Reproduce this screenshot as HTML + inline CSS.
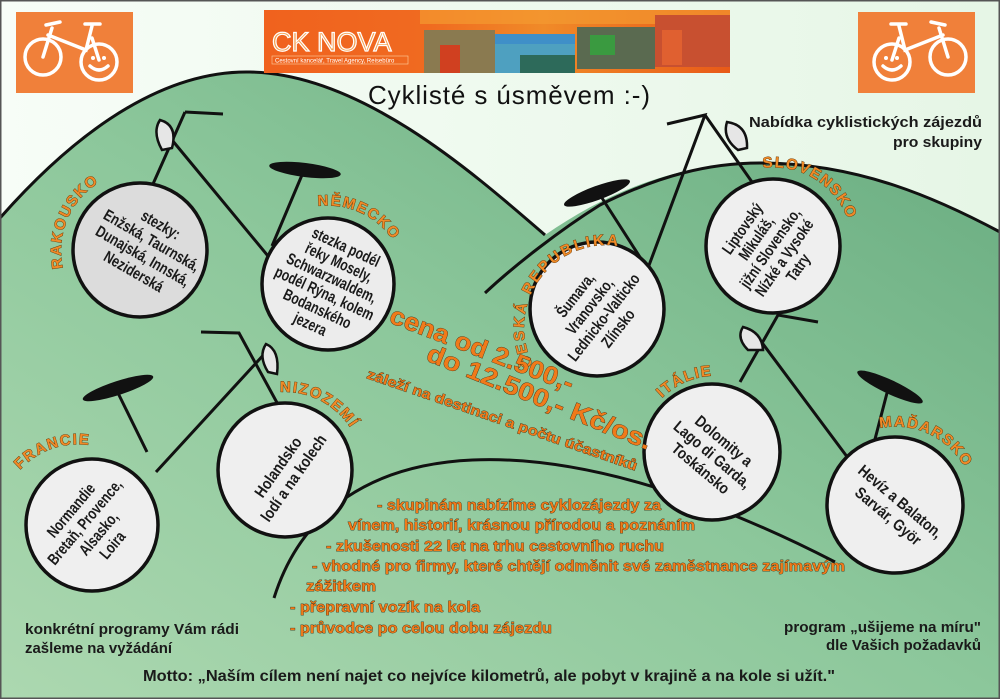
<!DOCTYPE html>
<html><head><meta charset="utf-8"><style>
html,body{margin:0;padding:0;width:1000px;height:699px;overflow:hidden;background:#fff}
svg{display:block}
.t{font-family:"Liberation Sans Narrow","Liberation Sans",sans-serif;font-weight:bold;fill:#1a1a1a}
.o{font-family:"Liberation Sans Narrow","Liberation Sans",sans-serif;font-weight:bold;fill:#f07a1a;stroke:#3a2a10;stroke-width:0.7;paint-order:stroke}
.lab{font-family:"Liberation Sans","DejaVu Sans",sans-serif;font-weight:bold;font-size:15px;fill:#f08a28;stroke:#5a3000;stroke-width:0.8;paint-order:stroke;letter-spacing:1.5px}
.ln{stroke:#111;stroke-width:3;fill:none}
.w{stroke:#fff;stroke-width:3.5;fill:none;stroke-linecap:round}
</style></head><body>
<svg width="1000" height="699" viewBox="0 0 1000 699" xmlns="http://www.w3.org/2000/svg">
<defs>
<linearGradient id="bg" x1="0" y1="0" x2="1" y2="0"><stop offset="0" stop-color="#f7fdf7"/><stop offset="1" stop-color="#e6f6e6"/></linearGradient>
<linearGradient id="gr" x1="0" y1="1" x2="1" y2="0"><stop offset="0" stop-color="#acd8b0"/><stop offset="0.5" stop-color="#8cc79b"/><stop offset="1" stop-color="#66aa7e"/></linearGradient>
<linearGradient id="ban" x1="0" y1="0" x2="1" y2="0"><stop offset="0" stop-color="#f0621e"/><stop offset="0.35" stop-color="#f06a20"/><stop offset="0.6" stop-color="#f08a28"/><stop offset="1" stop-color="#e85a18"/></linearGradient>
</defs>
<rect width="1000" height="699" fill="url(#bg)"/>
<path d="M0,218 C60,150 150,70 250,72 C360,74 470,170 545,235 C610,190 680,163 760,163 C860,163 940,200 1000,232 L1000,699 L0,699 Z" fill="url(#gr)"/>
<path d="M0,218 C60,150 150,70 250,72 C360,74 470,170 545,235" class="ln" stroke-width="2.5"/>
<path d="M485,293 C515,265 560,230 600,205 C660,175 710,163 760,163 C860,163 940,200 1000,232" class="ln" stroke-width="2.5"/>
<rect x="0.5" y="0.5" width="999" height="698" fill="none" stroke="#555" stroke-width="2"/>

<rect x="16" y="12" width="117" height="81" fill="#f0803a"/>
<g class="w"><circle cx="43" cy="57" r="18"/><circle cx="99" cy="62" r="18"/>
<path d="M43,57 L52,28 M46,25 L60,22 M48,35 L86,50 L92,26 M85,24 L100,24 M92,38 L99,60"/></g>
<circle cx="93" cy="58" r="2" fill="#fff"/><circle cx="104" cy="58" r="2" fill="#fff"/>
<path d="M90,66 Q99,74 108,66" class="w" stroke-width="2.5"/>
<rect x="858" y="12" width="117" height="81" fill="#f0803a"/>
<g class="w"><circle cx="948" cy="57" r="18"/><circle cx="892" cy="62" r="18"/>
<path d="M948,57 L939,28 M945,25 L931,22 M943,35 L905,50 L899,26 M906,24 L891,24 M899,38 L892,60"/></g>
<circle cx="886" cy="58" r="2" fill="#fff"/><circle cx="897" cy="58" r="2" fill="#fff"/>
<path d="M883,66 Q892,74 901,66" class="w" stroke-width="2.5"/>

<rect x="264" y="10" width="466" height="63" fill="url(#ban)"/>
<rect x="420" y="10" width="310" height="14" fill="#f39a30" opacity="0.7"/>
<rect x="424" y="30" width="71" height="43" fill="#8a7a50"/>
<rect x="440" y="45" width="20" height="28" fill="#d04020"/>
<rect x="495" y="34" width="80" height="39" fill="#4ea0c0"/>
<rect x="495" y="34" width="80" height="10" fill="#3f8fc8"/>
<rect x="520" y="55" width="55" height="18" fill="#2d6a5a"/>
<rect x="577" y="27" width="78" height="42" fill="#5a6a50"/>
<rect x="590" y="35" width="25" height="20" fill="#3a9a40"/>
<rect x="655" y="15" width="75" height="52" fill="#c85030"/>
<rect x="662" y="30" width="20" height="35" fill="#e06030"/>
<text x="272" y="51" font-family="Liberation Sans,sans-serif" font-size="27" fill="#f5a050" stroke="#fff" stroke-width="1.2">CK NOVA</text>
<rect x="272" y="56" width="136" height="8" fill="none" stroke="#ffd0a0" stroke-width="0.6"/>
<text x="275" y="62.5" font-family="Liberation Sans,sans-serif" font-size="6" fill="#fff">Cestovní kancelář, Travel Agency, Reisebüro</text>

<text x="368" y="104" font-family="Liberation Sans,sans-serif" font-size="26" fill="#111" textLength="282">Cyklisté s úsměvem :-)</text>
<text x="982" y="127" text-anchor="end" class="t" font-size="15" textLength="233" lengthAdjust="spacingAndGlyphs">Nabídka cyklistických zájezdů</text>
<text x="982" y="147" text-anchor="end" class="t" font-size="15" textLength="89" lengthAdjust="spacingAndGlyphs">pro skupiny</text>

<g class="ln"><path d="M185,112 L223,114 M185,112 L153,184 M172,140 L268,256 M302,175 L272,246"/></g>
<path d="M160,120 Q178,125 172,148 L162,150 Q152,132 160,120 Z" fill="#e6e6e6" stroke="#111" stroke-width="2.5"/>
<ellipse cx="305" cy="170" rx="36" ry="7" transform="rotate(7 305 170)" fill="#111"/>
<g class="ln"><path d="M667,124 L705,115 L648,268 M705,115 L752,182 M602,198 L645,265"/></g>
<path d="M727,122 Q748,125 747,148 L738,150 Q722,138 727,122 Z" fill="#e6e6e6" stroke="#111" stroke-width="2.5"/>
<ellipse cx="597" cy="193" rx="35" ry="7" transform="rotate(-20 597 193)" fill="#111"/>
<g class="ln"><path d="M201,332 L239,333 L281,410 M268,350 L156,472 M118,393 L147,452"/></g>
<path d="M266,344 Q280,350 277,374 L268,372 Q258,356 266,344 Z" fill="#e6e6e6" stroke="#111" stroke-width="2.5"/>
<ellipse cx="118" cy="388" rx="37" ry="7" transform="rotate(-18 118 388)" fill="#111"/>
<g class="ln"><path d="M818,322 L778,315 L740,382 M760,340 L848,458 M887,393 L874,443"/></g>
<path d="M743,327 Q762,332 763,350 L748,350 Q736,338 743,327 Z" fill="#e6e6e6" stroke="#111" stroke-width="2.5"/>
<ellipse cx="890" cy="387" rx="36" ry="7" transform="rotate(25 890 387)" fill="#111"/>

<path d="M274,598 C330,420 560,420 835,562" class="ln" stroke-width="2.5"/>

<g stroke="#111" stroke-width="3.5">
<circle cx="140" cy="250" r="67" fill="#dcdcdc"/>
<circle cx="328" cy="284" r="66" fill="#ececec"/>
<circle cx="597" cy="309" r="67" fill="#efefef"/>
<circle cx="773" cy="246" r="67" fill="#efefef"/>
<circle cx="92" cy="525" r="66" fill="#efefef"/>
<circle cx="285" cy="470" r="67" fill="#efefef"/>
<circle cx="712" cy="452" r="68" fill="#efefef"/>
<circle cx="895" cy="505" r="68" fill="#efefef"/>
</g>

<path id="a1" d="M63,268 A80,80 0 0 1 150,171" fill="none"/>
<path id="a2" d="M318,206 A79,79 0 0 1 405,300" fill="none"/>
<path id="a3" d="M533,365 A80,80 0 0 1 680,290" fill="none"/>
<path id="a4" d="M763,168 A79,79 0 0 1 852,256" fill="none"/>
<path id="a5" d="M20,470 A78,78 0 0 1 102,448" fill="none"/>
<path id="a6" d="M280,392 A78,78 0 0 1 362,480" fill="none"/>
<path id="a7" d="M662,398 A77,77 0 0 1 725,376" fill="none"/>
<path id="a8" d="M880,428 A79,79 0 0 1 972,525" fill="none"/>
<text class="lab"><textPath href="#a1">RAKOUSKO</textPath></text>
<text class="lab"><textPath href="#a2">NĚMECKO</textPath></text>
<text class="lab" style="letter-spacing:2.5px"><textPath href="#a3">ČESKÁ REPUBLIKA</textPath></text>
<text class="lab"><textPath href="#a4">SLOVENSKO</textPath></text>
<text class="lab"><textPath href="#a5">FRANCIE</textPath></text>
<text class="lab"><textPath href="#a6">NIZOZEMÍ</textPath></text>
<text class="lab"><textPath href="#a7">ITÁLIE</textPath></text>
<text class="lab"><textPath href="#a8">MAĎARSKO</textPath></text>

<g class="t" font-size="16" text-anchor="middle">
<g transform="translate(145,252) rotate(30) scale(0.78,1)">
<text y="-26">stezky:</text><text y="-8">Enžská, Taurnská,</text><text y="10">Dunajská, Innská,</text><text y="28">Neziderská</text></g>
<g transform="translate(326,290) rotate(25) scale(0.76,1)">
<text y="-42">stezka podél</text><text y="-25">řeky Mosely,</text><text y="-8">Schwarzwaldem,</text><text y="9">podél Rýna, kolem</text><text y="26">Bodanského</text><text y="43">jezera</text></g>
<g transform="translate(597,312) rotate(-52) scale(0.78,1)">
<text y="-22">Šumava,</text><text y="-4">Vranovsko,</text><text y="14">Lednicko-Valticko</text><text y="32">Zlínsko</text></g>
<g transform="translate(773,250) rotate(-55) scale(0.78,1)">
<text y="-32">Liptovský</text><text y="-15">Mikuláš,</text><text y="2">jižní Slovensko,</text><text y="19">Nízké a Vysoké</text><text y="36">Tatry</text></g>
<g transform="translate(92,528) rotate(-50) scale(0.78,1)">
<text y="-22">Normandie</text><text y="-4">Bretaň, Provence,</text><text y="14">Alsasko,</text><text y="32">Loira</text></g>
<g transform="translate(285,472) rotate(-55) scale(0.85,1)">
<text y="-3">Holandsko</text><text y="16">lodí a na kolech</text></g>
<g transform="translate(712,455) rotate(40) scale(0.85,1)">
<text y="-13">Dolomity a</text><text y="5">Lago di Garda,</text><text y="23">Toskánsko</text></g>
<g transform="translate(895,508) rotate(40) scale(0.85,1)">
<text y="-3">Hevíz a Balaton,</text><text y="16">Sarvár, Györ</text></g>
</g>

<g class="o">
<text transform="translate(388,322) rotate(21)" font-size="25" textLength="195" lengthAdjust="spacingAndGlyphs">cena od 2.500,-</text>
<text transform="translate(425,360) rotate(22)" font-size="25" textLength="240" lengthAdjust="spacingAndGlyphs">do 12.500,- Kč/os.</text>
<text transform="translate(366,378) rotate(19)" font-size="14" textLength="285" lengthAdjust="spacingAndGlyphs">záleží na destinaci a počtu účastníků</text>
</g>

<g class="o" font-size="15">
<text x="377" y="510" textLength="284" lengthAdjust="spacingAndGlyphs">- skupinám nabízíme cyklozájezdy za</text>
<text x="348" y="530" textLength="347" lengthAdjust="spacingAndGlyphs">vínem, historií, krásnou přírodou a poznáním</text>
<text x="326" y="551" textLength="338" lengthAdjust="spacingAndGlyphs">- zkušenosti 22 let na trhu cestovního ruchu</text>
<text x="312" y="571" textLength="533" lengthAdjust="spacingAndGlyphs">- vhodné pro firmy, které chtějí odměnit své zaměstnance zajímavým</text>
<text x="306" y="591" textLength="70" lengthAdjust="spacingAndGlyphs">zážitkem</text>
<text x="290" y="612" textLength="190" lengthAdjust="spacingAndGlyphs">- přepravní vozík na kola</text>
<text x="290" y="633" textLength="262" lengthAdjust="spacingAndGlyphs">- průvodce po celou dobu zájezdu</text>
</g>

<g class="t" font-size="15">
<text x="25" y="634" textLength="214" lengthAdjust="spacingAndGlyphs">konkrétní programy Vám rádi</text>
<text x="25" y="653" textLength="147" lengthAdjust="spacingAndGlyphs">zašleme na vyžádání</text>
<text x="981" y="632" text-anchor="end" textLength="197" lengthAdjust="spacingAndGlyphs">program „ušijeme na míru"</text>
<text x="981" y="650" text-anchor="end" textLength="155" lengthAdjust="spacingAndGlyphs">dle Vašich požadavků</text>
<text x="143" y="681" font-size="16" textLength="692" lengthAdjust="spacingAndGlyphs">Motto: „Naším cílem není najet co nejvíce kilometrů, ale pobyt v krajině a na kole si užít."</text>
</g>
</svg>
</body></html>
